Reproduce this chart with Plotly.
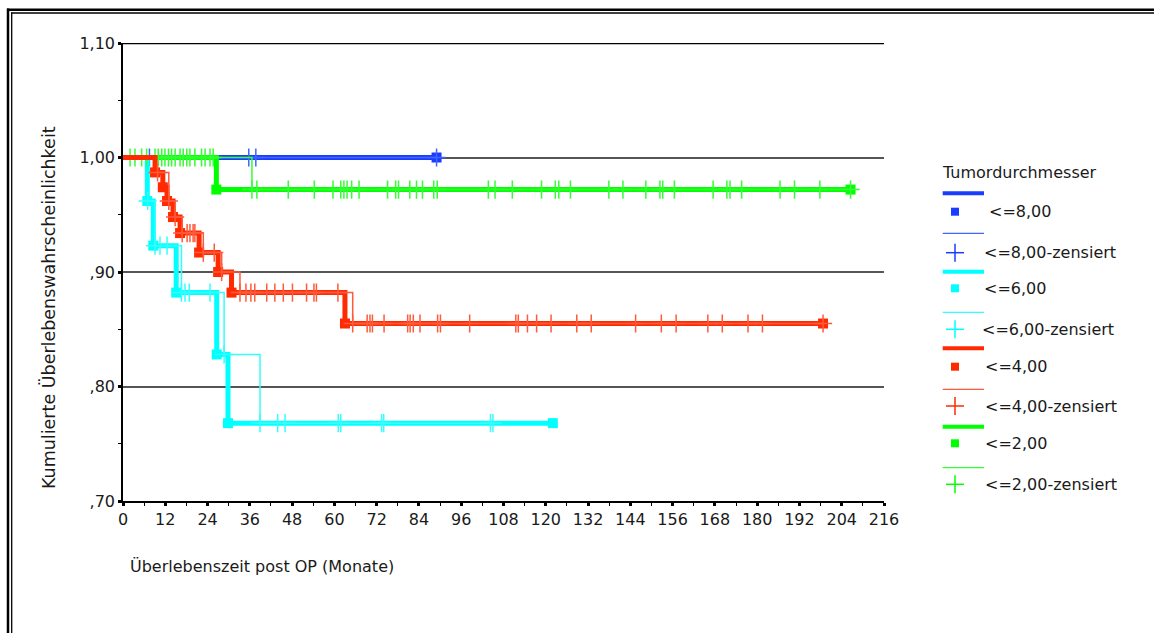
import plotly.graph_objects as go

# ---------------- data ----------------
x_tick_vals = list(range(0, 217, 12))
x_tick_text = [str(v) for v in x_tick_vals]
x_minor_vals = list(range(6, 217, 12))
y_tick_vals = [0.70, 0.80, 0.90, 1.00, 1.10]
y_tick_text = [",70", ",80", ",90", "1,00", "1,10"]
y_minor_vals = [0.75, 0.85, 0.95, 1.05]

x_title = "Überlebenszeit post OP (Monate)"
y_title = "Kumulierte Überlebenswahrscheinlichkeit"
legend_title = "Tumordurchmesser"

group_names = ["<=8,00", "<=6,00", "<=4,00", "<=2,00"]
censor_suffix = "-zensiert"

# <=8,00
d8_event_t = []
d8_event_s = []
d8_censor_t = [7.5, 35.7, 37.7, 89.0]
d8_end_t = 89.0

# <=6,00
d6_event_t = [6.9, 8.6, 15.1, 26.6, 29.8]
d6_event_s = [0.962, 0.923, 0.882, 0.828, 0.768]
d6_censor_t = [7.0, 9.1, 10.5, 12.5, 16.6, 17.6, 18.8, 24.7, 28.7, 38.9, 43.9,
               46.0, 61.1, 61.8, 73.4, 74.0, 104.3, 105.0]
d6_end_t = 122.0

# <=4,00
d4_event_t = [9.1, 11.3, 12.5, 14.2, 16.2, 21.6, 27.0, 30.8, 63.0]
d4_event_s = [0.987, 0.974, 0.962, 0.948, 0.934, 0.917, 0.900, 0.882, 0.855]
d4_censor_t = [9.8, 13.0, 14.8, 16.8, 18.2, 19.0, 19.9, 20.4, 22.8, 25.9, 28.0,
               33.2, 34.9, 36.3, 37.4, 40.8, 43.1, 45.5, 48.1, 52.1, 54.2, 54.9,
               61.0, 65.2, 69.3, 70.1, 70.8, 74.1, 80.8, 81.5, 82.4, 84.3, 89.3,
               90.1, 98.4, 111.5, 112.2, 114.8, 117.4, 121.5, 128.8, 132.9,
               145.5, 152.8, 157.0, 166.0, 170.1, 177.4, 181.5, 198.7]
d4_end_t = 198.7

# <=2,00
d2_event_t = [26.5]
d2_event_s = [0.972]
d2_censor_t = [2.0, 3.4, 5.3, 6.7, 9.1, 10.0, 11.0, 11.9, 12.9, 13.8, 14.8, 16.2,
               17.1, 18.1, 19.0, 20.4, 22.3, 23.3, 24.7, 25.6,
               36.6, 38.0, 46.9, 54.3, 59.6, 61.8, 62.7, 63.6, 64.9, 67.0, 75.1,
               77.4, 78.2, 81.4, 83.3, 85.0, 88.2, 89.2, 103.7, 105.6, 110.5,
               118.8, 122.7, 123.7, 127.0, 137.9, 141.9, 148.4, 152.4, 153.2,
               156.5, 167.5, 171.4, 172.3, 175.6, 186.5, 190.6, 197.8, 206.5]
d2_end_t = 206.5

# ---------------- styling ----------------
thick_colors = ["#1a3cff", "#00ffff", "#ff2a00", "#00ff00"]
thin_colors = ["#4066ff", "#33ffff", "#ff5a3c", "#33ff33"]
FONT = "DejaVu Sans"
TXT = "#1a1a1a"

W, H = 1154, 633
L, R, T, B = 123, 884, 43, 501


def px_x(px):
    return (px - L) / (R - L)


def px_y(py):
    return (B - py) / (B - T)


def km(t, ev_t, ev_s):
    s = 1.0
    for et, es in zip(ev_t, ev_s):
        if et <= t:
            s = es
    return s


groups = [
    (d8_event_t, d8_event_s, d8_censor_t, d8_end_t),
    (d6_event_t, d6_event_s, d6_censor_t, d6_end_t),
    (d4_event_t, d4_event_s, d4_censor_t, d4_end_t),
    (d2_event_t, d2_event_s, d2_censor_t, d2_end_t),
]
draw_order = [0, 1, 3, 2]

fig = go.Figure()
for gi in draw_order:
    ev_t, ev_s, c_t, end_t = groups[gi]
    last_s = km(end_t, ev_t, ev_s)
    fig.add_trace(go.Scatter(
        x=[0] + ev_t + [end_t], y=[1.0] + ev_s + [last_s],
        mode="lines", line=dict(color=thick_colors[gi], width=5, shape="hv"),
        name=group_names[gi], hoverinfo="skip"))
    fig.add_trace(go.Scatter(
        x=ev_t + [end_t], y=ev_s + [last_s], mode="markers",
        marker=dict(symbol="square", size=10, color=thick_colors[gi]),
        name=group_names[gi], hoverinfo="skip", cliponaxis=False))
    fig.add_trace(go.Scatter(
        x=c_t, y=[km(t, ev_t, ev_s) for t in c_t], mode="lines+markers",
        line=dict(color=thin_colors[gi], width=1.5, shape="hv"),
        marker=dict(symbol="cross-thin-open", size=13,
                    line=dict(color=thin_colors[gi], width=1.5)),
        name=group_names[gi] + censor_suffix, hoverinfo="skip", cliponaxis=False))

shapes = []
annotations = []

# frame of the page (double border)
shapes.append(dict(type="line", xref="paper", yref="paper", x0=px_x(7), x1=px_x(1154),
                   y0=px_y(9.7), y1=px_y(9.7), line=dict(color="black", width=2.5)))
shapes.append(dict(type="line", xref="paper", yref="paper", x0=px_x(11), x1=px_x(1154),
                   y0=px_y(13), y1=px_y(13), line=dict(color="black", width=1.3)))
shapes.append(dict(type="line", xref="paper", yref="paper", x0=px_x(8), x1=px_x(8),
                   y0=px_y(8.5), y1=px_y(640), line=dict(color="black", width=2.5)))
shapes.append(dict(type="line", xref="paper", yref="paper", x0=px_x(11.7), x1=px_x(11.7),
                   y0=px_y(12.4), y1=px_y(640), line=dict(color="black", width=1.3)))

# top reference line at 1,10
shapes.append(dict(type="line", xref="x", yref="y", x0=0, x1=216, y0=1.10, y1=1.10,
                   line=dict(color="black", width=2.5), layer="below"))

# legend (SPSS style)
leg_rows = [  # thick line y, square y, thin line y, cross y
    (193.3, 211.7, 233.3, 252.7),
    (271.7, 288.3, 312.3, 329.3),
    (348.3, 366.7, 389.3, 406.0),
    (426.7, 443.3, 467.7, 484.3),
]
label_x = [(987, 982), (982, 980), (983, 983), (983, 983)]
for gi, (ly, sy, ty, cy) in enumerate(leg_rows):
    shapes.append(dict(type="line", xref="paper", yref="paper", x0=px_x(942.7), x1=px_x(984),
                       y0=px_y(ly), y1=px_y(ly), line=dict(color=thick_colors[gi], width=4)))
    shapes.append(dict(type="rect", xref="paper", yref="paper", x0=px_x(951), x1=px_x(959),
                       y0=px_y(sy + 4), y1=px_y(sy - 4), line=dict(width=0),
                       fillcolor=thick_colors[gi]))
    shapes.append(dict(type="line", xref="paper", yref="paper", x0=px_x(942.7), x1=px_x(984),
                       y0=px_y(ty), y1=px_y(ty), line=dict(color=thin_colors[gi], width=1.3)))
    shapes.append(dict(type="line", xref="paper", yref="paper", x0=px_x(955), x1=px_x(955),
                       y0=px_y(cy - 9), y1=px_y(cy + 9), line=dict(color=thick_colors[gi], width=1.5)))
    shapes.append(dict(type="line", xref="paper", yref="paper", x0=px_x(946), x1=px_x(964),
                       y0=px_y(cy), y1=px_y(cy), line=dict(color=thick_colors[gi], width=1.5)))
    annotations.append(dict(xref="paper", yref="paper", x=px_x(label_x[gi][0]), y=px_y(sy),
                            text=group_names[gi], showarrow=False, xanchor="left", yanchor="middle",
                            font=dict(family=FONT, size=16, color=TXT)))
    annotations.append(dict(xref="paper", yref="paper", x=px_x(label_x[gi][1]), y=px_y(cy),
                            text=group_names[gi] + censor_suffix, showarrow=False, xanchor="left",
                            yanchor="middle", font=dict(family=FONT, size=16, color=TXT)))

annotations.append(dict(xref="paper", yref="paper", x=px_x(940), y=px_y(172.7), text=legend_title,
                        showarrow=False, xanchor="left", yanchor="middle",
                        font=dict(family=FONT, size=16, color=TXT)))
annotations.append(dict(xref="paper", yref="paper", x=px_x(128), y=px_y(566), text=x_title,
                        showarrow=False, xanchor="left", yanchor="middle",
                        font=dict(family=FONT, size=16, color=TXT)))
annotations.append(dict(xref="paper", yref="paper", x=px_x(48), y=px_y(308), text=y_title,
                        showarrow=False, xanchor="center", yanchor="middle", textangle=-90,
                        font=dict(family=FONT, size=17.5, color=TXT)))

fig.update_layout(
    width=W, height=H,
    margin=dict(l=L, r=W - R, t=T, b=H - B),
    plot_bgcolor="white", paper_bgcolor="white",
    showlegend=False,
    font=dict(family=FONT, size=16, color=TXT),
    shapes=shapes, annotations=annotations,
    xaxis=dict(range=[0, 216], tickmode="array", tickvals=x_tick_vals, ticktext=x_tick_text,
               showgrid=False, zeroline=False, showline=True, linecolor="black", linewidth=1.5,
               ticks="outside", ticklen=3, tickwidth=3, tickcolor="black",
               minor=dict(tickvals=x_minor_vals, ticks="outside", ticklen=3, tickwidth=1,
                          tickcolor="black"),
               tickfont=dict(family=FONT, size=16, color=TXT)),
    yaxis=dict(range=[0.70, 1.10], tickmode="array", tickvals=y_tick_vals, ticktext=y_tick_text,
               showgrid=True, gridcolor="#555555", gridwidth=1.5, zeroline=False,
               showline=True, linecolor="black", linewidth=1.5,
               ticks="outside", ticklen=3, tickwidth=3, tickcolor="black",
               minor=dict(tickvals=y_minor_vals, ticks="outside", ticklen=3, tickwidth=1,
                          tickcolor="black"),
               tickfont=dict(family=FONT, size=16, color=TXT)),
)

fig.write_html("out.html", config={"displayModeBar": False},
               post_script="document.body.style.margin='0';")
